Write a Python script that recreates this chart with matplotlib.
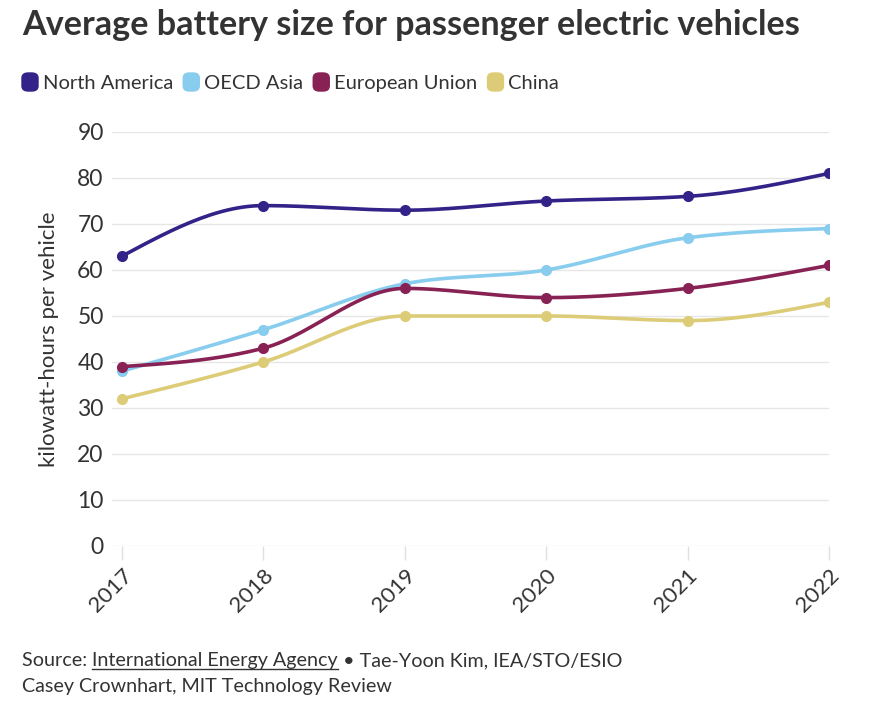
import numpy as np
import matplotlib
matplotlib.use("Agg")
import matplotlib.pyplot as plt
from matplotlib.patches import FancyBboxPatch

years = [2017, 2018, 2019, 2020, 2021, 2022]
series_names = ["North America", "OECD Asia", "European Union", "China"]
north_america = [63, 74, 73, 75, 76, 81]
oecd_asia = [38, 47, 57, 60, 67, 69]
european_union = [39, 43, 56, 54, 56, 61]
china = [32, 40, 50, 50, 49, 53]
colors = ["#332288", "#88CCEE", "#882255", "#DDCC77"]
y_ticks = [0, 10, 20, 30, 40, 50, 60, 70, 80, 90]

plt.rcParams['font.family'] = ['Lato', 'DejaVu Sans']
TXT = "#333333"


def monotone_x(x, y, n=30):
    # same shape as d3.curveMonotoneX
    x = np.asarray(x, float)
    y = np.asarray(y, float)
    h = np.diff(x)
    s = np.diff(y) / h
    t = np.zeros(len(x))
    for i in range(1, len(x) - 1):
        p = (s[i - 1] * h[i] + s[i] * h[i - 1]) / (h[i - 1] + h[i])
        t[i] = (np.sign(s[i - 1]) + np.sign(s[i])) * min(abs(s[i - 1]), abs(s[i]), 0.5 * abs(p))
    t[0] = (3 * s[0] - t[1]) / 2
    t[-1] = (3 * s[-1] - t[-2]) / 2
    xs, ys = [], []
    for i in range(len(x) - 1):
        u = np.linspace(0, 1, n)
        h00 = 2 * u**3 - 3 * u**2 + 1
        h10 = u**3 - 2 * u**2 + u
        h01 = -2 * u**3 + 3 * u**2
        h11 = u**3 - u**2
        xs.append(x[i] + u * h[i])
        ys.append(h00 * y[i] + h10 * h[i] * t[i] + h01 * y[i + 1] + h11 * h[i] * t[i + 1])
    return np.concatenate(xs), np.concatenate(ys)


fig = plt.figure(figsize=(8.78, 7.12), dpi=100)
ax = fig.add_axes([112 / 878, 1 - 546 / 712, (829 - 112) / 878, (546 - 132) / 712])

for name, vals, c in zip(series_names, [north_america, oecd_asia, european_union, china], colors):
    sx, sy = monotone_x(years, vals)
    ax.plot(sx, sy, color=c, lw=2.6, solid_capstyle="round", zorder=3)
    ax.plot(years, vals, "o", color=c, ms=7, zorder=4)

ax.set_xlim(2016.93, 2022)
ax.set_ylim(0, 90)
ax.set_yticks(y_ticks)
ax.set_xticks(years)
ax.set_xticklabels([str(y) for y in years], rotation=45, ha="right", va="top",
                   rotation_mode="anchor", fontsize=16, color=TXT)
ax.tick_params(axis="x", length=10, width=1, color="#e0e0e0", pad=4)
ax.tick_params(axis="y", length=0, pad=6, labelsize=16.5, labelcolor=TXT)
ax.grid(axis="y", color="#e6e6e6", lw=1)
ax.set_axisbelow(True)
for sp in ax.spines.values():
    sp.set_visible(False)
ax.set_ylabel("kilowatt-hours per vehicle", fontsize=16, color=TXT)
ax.yaxis.set_label_coords(-0.074, 0.5)

# title
fig.text(22 / 878, 1 - 25 / 712, "Average battery size for passenger electric vehicles",
         fontsize=24.6, fontweight="bold", color=TXT, va="center", ha="left")

# legend with rounded swatches
fig.canvas.draw()
r = fig.canvas.get_renderer()
xpos = 22
ly = 1 - 82 / 712
base = 1 - 89 / 712
for name, c in zip(series_names, colors):
    box = FancyBboxPatch((xpos / 878, ly - 9 / 712), 16 / 878, 18 / 712,
                         boxstyle="round,pad=0,rounding_size=0.007",
                         transform=fig.transFigure, color=c, figure=fig)
    fig.patches.append(box)
    t = fig.text((xpos + 21) / 878, base, name, fontsize=14.5, color=TXT, va="baseline", ha="left")
    w = t.get_window_extent(r).width
    xpos = xpos + 21 + w + 10

# footer
fy1 = 1 - 666 / 712
fy2 = 1 - 692 / 712
parts = ["Source: ", "International Energy Agency", " \u2022 Tae-Yoon Kim, IEA/STO/ESIO"]
xp = 22
for i, p in enumerate(parts):
    t = fig.text(xp / 878, fy1, p, fontsize=14.2, color=TXT, va="baseline", ha="left")
    bb = t.get_window_extent(r)
    if i == 1:
        fig.add_artist(plt.Line2D([xp / 878, (xp + bb.width) / 878],
                                  [fy1 - 3 / 712, fy1 - 3 / 712],
                                  transform=fig.transFigure, color=TXT, lw=1))
    xp += bb.width
fig.text(22 / 878, fy2, "Casey Crownhart, MIT Technology Review", fontsize=14.2,
         color=TXT, va="baseline", ha="left")

fig.savefig("out.png", dpi=100)
